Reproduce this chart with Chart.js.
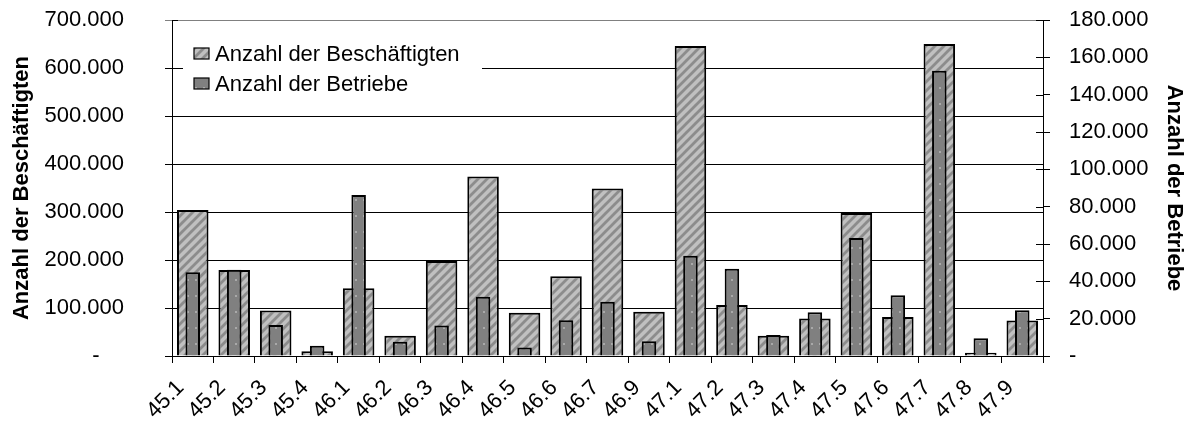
<!DOCTYPE html>
<html>
<head>
<meta charset="utf-8">
<script src="https://cdn.jsdelivr.net/npm/chart.js@4/dist/chart.umd.min.js"></script>
<style>
  html, body { margin: 0; padding: 0; background: #fff; }
  #wrap { width: 1192px; height: 423px; }
</style>
</head>
<body>
<div id="wrap"><canvas id="chart" width="1192" height="423"></canvas></div>
<script>
// WZ-Abteilungen / Gruppen
const categories = ['45.1', '45.2', '45.3', '45.4', '46.1', '46.2', '46.3', '46.4', '46.5', '46.6', '46.7',
                    '46.9', '47.1', '47.2', '47.3', '47.4', '47.5', '47.6', '47.7', '47.8', '47.9'];

// Anzahl der Beschäftigten (linke Achse)
const beschaeftigte = [304000, 179000, 95000, 10000, 141000, 42000, 198000, 374000, 90000, 166000, 349000,
                       92000, 646000, 106000, 42000, 78000, 298000, 81000, 650000, 7000, 74000];

// Anzahl der Betriebe (rechte Achse)
const betriebe = [44800, 46200, 16600, 5500, 86300, 7700, 16400, 31800, 4600, 19100, 29100,
                  7900, 53700, 46800, 11300, 23400, 63200, 32500, 152800, 9500, 24500];

const seriesLabels = ['Anzahl der Beschäftigten', 'Anzahl der Betriebe'];
const axisTitles = ['Anzahl der Beschäftigten', 'Anzahl der Betriebe'];
const leftRange = [0, 700000, 100000];
const rightRange = [0, 180000, 20000];

const FONT = '"Liberation Sans", Arial, sans-serif';

// Tausenderpunkt, Null als "-"
function fmt(v, pad) {
    if (v === 0) return pad ? '-    ' : '-';
    return String(v).replace(/\B(?=(\d{3})+(?!\d))/g, '.');
}

function stripePattern() {
    const c = document.createElement('canvas');
    c.width = 9; c.height = 9;
    const g = c.getContext('2d');
    g.fillStyle = '#c0c0c0';
    g.fillRect(0, 0, 9, 9);
    g.strokeStyle = '#8c8c8c';
    g.lineWidth = 2.8;
    g.beginPath();
    g.moveTo(-2, 11); g.lineTo(11, -2);
    g.moveTo(-2, 2); g.lineTo(2, -2);
    g.moveTo(7, 11); g.lineTo(11, 7);
    g.stroke();
    return g.createPattern(c, 'repeat');
}

function dotPattern() {
    const c = document.createElement('canvas');
    c.width = 8; c.height = 16;
    const g = c.getContext('2d');
    g.fillStyle = '#808080';
    g.fillRect(0, 0, 8, 16);
    g.fillStyle = '#a9a9a9';
    g.fillRect(3, 7, 2, 2);
    return g.createPattern(c, 'repeat');
}

const stripes = stripePattern();
const dots = dotPattern();

// Legende innerhalb der Zeichenfläche (weißer Kasten, ohne Rahmen)
const boxLegend = {
    id: 'boxLegend',
    afterDraw(chart) {
        const ctx = chart.ctx;
        const a = chart.chartArea;
        const x0 = a.left + 11, y0 = a.top + 18;
        ctx.save();
        ctx.fillStyle = '#fff';
        ctx.fillRect(x0, y0, 299, 60);
        ctx.font = '22px ' + FONT;
        ctx.textBaseline = 'alphabetic';
        chart.data.datasets.forEach((ds, i) => {
            const base = y0 + 23 + i * 30;
            ctx.fillStyle = ds.backgroundColor;
            ctx.fillRect(x0 + 11, base - 13, 15, 11);
            ctx.strokeStyle = '#000';
            ctx.lineWidth = 1.2;
            ctx.strokeRect(x0 + 11, base - 13, 15, 11);
            ctx.fillStyle = '#000';
            ctx.fillText(ds.label, x0 + 32, base);
        });
        ctx.restore();
    }
};

// kurze Striche nach innen an beiden Y-Achsen
const innerTicks = {
    id: 'innerTicks',
    afterDraw(chart) {
        const ctx = chart.ctx;
        const a = chart.chartArea;
        ctx.save();
        ctx.strokeStyle = '#000';
        ctx.lineWidth = 1;
        ['y', 'y1'].forEach(id => {
            const s = chart.scales[id];
            s.ticks.forEach(t => {
                const py = Math.round(s.getPixelForValue(t.value)) + 0.5;
                ctx.beginPath();
                if (id === 'y') { ctx.moveTo(a.left, py); ctx.lineTo(a.left + 6, py); }
                else { ctx.moveTo(a.right - 7, py); ctx.lineTo(a.right, py); }
                ctx.stroke();
            });
        });
        ctx.restore();
    }
};

// feste Breiten der Achsen, ohne zusätzliche Polsterung oben/unten
function fixWidth(w) {
    return s => {
        s.width = w;
        s.paddingTop = 0;
        s.paddingBottom = 0;
    };
}

new Chart(document.getElementById('chart').getContext('2d'), {
    type: 'bar',
    data: {
        labels: categories,
        datasets: [{
            label: seriesLabels[0],
            data: beschaeftigte,
            yAxisID: 'y',
            backgroundColor: stripes,
            borderColor: '#000',
            borderWidth: 2,
            barPercentage: 0.76,
            categoryPercentage: 1,
            grouped: false,
            order: 1
        }, {
            label: seriesLabels[1],
            data: betriebe,
            yAxisID: 'y1',
            backgroundColor: dots,
            borderColor: '#000',
            borderWidth: 2,
            barPercentage: 0.35,
            categoryPercentage: 1,
            grouped: false,
            order: 0
        }]
    },
    options: {
        responsive: false,
        animation: false,
        layout: { padding: { top: 20, left: 0, right: 0, bottom: 0 } },
        plugins: {
            legend: { display: false },
            tooltip: { enabled: false }
        },
        scales: {
            x: {
                offset: true,
                grid: { display: true, drawOnChartArea: false, drawTicks: true, tickLength: 7, color: '#000', offset: true },
                border: { display: true, color: '#000', width: 1 },
                ticks: {
                    autoSkip: false,
                    minRotation: 45,
                    maxRotation: 45,
                    padding: 12,
                    labelOffset: -12,
                    color: '#000',
                    font: { family: FONT, size: 22 }
                },
                afterFit: s => { s.height = 67; }
            },
            y: {
                position: 'left',
                min: leftRange[0],
                max: leftRange[1],
                ticks: {
                    stepSize: leftRange[2],
                    padding: 41,
                    color: '#000',
                    font: { family: FONT, size: 22 },
                    callback: v => fmt(v, true)
                },
                grid: {
                    color: c => (c.tick && c.tick.value === leftRange[1]) ? '#808080' : '#000',
                    lineWidth: 1,
                    tickLength: 7
                },
                border: { display: true, color: '#000', width: 1 },
                title: {
                    display: true,
                    text: axisTitles[0],
                    color: '#000',
                    font: { family: FONT, size: 22, weight: 'bold' },
                    padding: { top: 9, bottom: 0 }
                },
                afterFit: fixWidth(172)
            },
            y1: {
                position: 'right',
                min: rightRange[0],
                max: rightRange[1],
                ticks: {
                    stepSize: rightRange[2],
                    padding: 19,
                    color: '#000',
                    font: { family: FONT, size: 22 },
                    callback: v => fmt(v, false)
                },
                grid: { drawOnChartArea: false, color: '#000', tickLength: 7 },
                border: { display: true, color: '#000', width: 1 },
                title: {
                    display: true,
                    text: axisTitles[1],
                    color: '#000',
                    font: { family: FONT, size: 22, weight: 'bold' },
                    padding: { top: 5, bottom: 0 }
                },
                afterFit: fixWidth(149)
            }
        }
    },
    plugins: [boxLegend, innerTicks]
});
</script>
</body>
</html>
